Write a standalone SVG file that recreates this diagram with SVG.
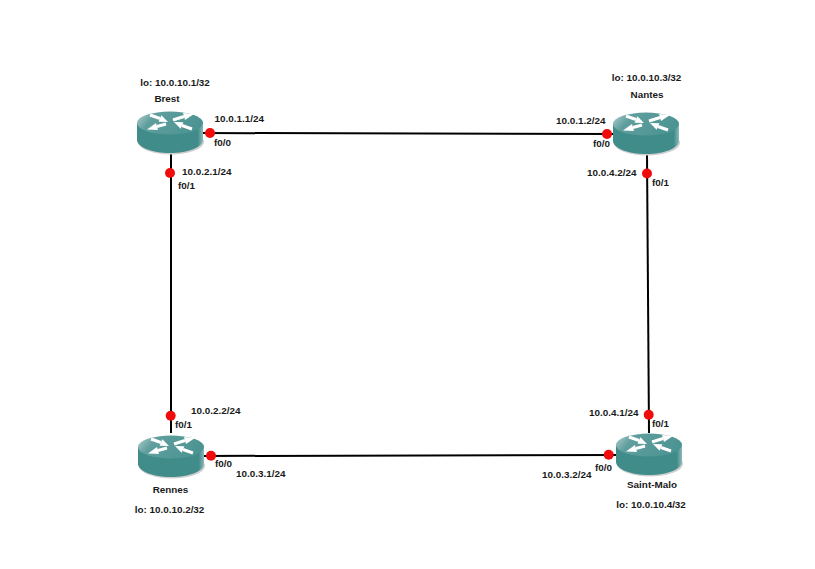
<svg xmlns="http://www.w3.org/2000/svg" width="815" height="569" viewBox="0 0 815 569">
<style>
text{font-family:"Liberation Sans",Arial,sans-serif;font-size:9.9px;font-weight:bold;fill:#1a1a1a;stroke:none}
.link{stroke:#000;stroke-width:2;fill:none}
.dot{fill:#f00c0c}
.mid{text-anchor:middle}
.arr{stroke:#fff;stroke-width:3;fill:none}
</style>
<defs>
<linearGradient id="top" x1="0" y1="0" x2="1" y2="0.3">
<stop offset="0" stop-color="#b4d0cf"/><stop offset="0.3" stop-color="#5f9e9d"/><stop offset="1" stop-color="#4c9493"/>
</linearGradient>
<linearGradient id="side" x1="0" y1="0" x2="1" y2="0">
<stop offset="0" stop-color="#3f8c8a"/><stop offset="0.92" stop-color="#3f8c8a"/><stop offset="1" stop-color="#8fb9b8"/>
</linearGradient>
<g id="router">
<ellipse cx="1" cy="7" rx="33" ry="12.5" fill="#cfcfcf"/>
<path d="M-33-12V5C-33 12-18 18 0 18S33 12 33 5V-12Z" fill="url(#side)"/>
<ellipse cx="0" cy="-12" rx="33" ry="11.5" fill="url(#top)"/>
<g fill="#fff">
<path class="arr" d="M-20-20L-10-16.500"/><path d="M-2-13L-8.600-19.800L-11.400-13.200Z"/>
<path class="arr" d="M22-6L12-9.500"/><path d="M4-13L10.600-6.200L13.400-12.800Z"/>
<path class="arr" d="M3-15L14-18.500"/><path d="M24-21L15-15.100L13-21.900Z"/>
<path class="arr" d="M-4-11L-13-8.500"/><path d="M-23-5.500L-14-12L-12-5Z"/>
</g>
</g>
</defs>
<rect width="815" height="569" fill="#fff"/>
<g id="connectors">
<path class="link" d="M203 133L614 134"/>
<path class="link" d="M171 153L171 433"/>
<path class="link" d="M647 154L649 433"/>
<path class="link" d="M204 456L616 455"/>
</g>
<g id="brest"><use href="#router" x="170" y="135"/><text class="mid" x="167" y="102">Brest</text><text class="mid" x="175" y="86">lo: 10.0.10.1/32</text></g>
<g id="nantes"><use href="#router" x="646" y="136"/><text class="mid" x="647" y="98">Nantes</text><text class="mid" x="646.500" y="80.500">lo: 10.0.10.3/32</text></g>
<g id="rennes"><use href="#router" x="171" y="459"/><text class="mid" x="170.500" y="492.500">Rennes</text><text class="mid" x="169.500" y="512.500">lo: 10.0.10.2/32</text></g>
<g id="saint-malo"><use href="#router" x="649" y="457"/><text class="mid" x="652" y="488">Saint-Malo</text><text class="mid" x="651" y="507.500">lo: 10.0.10.4/32</text></g>
<g id="interfaces">
<circle class="dot" cx="210" cy="133" r="5"/><circle class="dot" cx="170" cy="173" r="5"/>
<circle class="dot" cx="607" cy="134" r="5"/><circle class="dot" cx="647" cy="173.500" r="5"/>
<circle class="dot" cx="170.700" cy="415.700" r="5"/><circle class="dot" cx="211" cy="455.700" r="5"/>
<circle class="dot" cx="648.700" cy="414.700" r="5"/><circle class="dot" cx="608.700" cy="454.700" r="5"/>
<text x="214.500" y="122">10.0.1.1/24</text><text x="214" y="146">f0/0</text>
<text x="182" y="175">10.0.2.1/24</text><text x="178" y="189">f0/1</text>
<text x="556" y="123.500">10.0.1.2/24</text><text x="593" y="147">f0/0</text>
<text x="587" y="176">10.0.4.2/24</text><text x="652" y="185.500">f0/1</text>
<text x="191" y="414">10.0.2.2/24</text><text x="175" y="427.500">f0/1</text>
<text x="236" y="476.500">10.0.3.1/24</text><text x="215" y="467">f0/0</text>
<text x="589" y="416">10.0.4.1/24</text><text x="652" y="427">f0/1</text>
<text x="542" y="478">10.0.3.2/24</text><text x="595" y="471">f0/0</text>
</g>
</svg>
